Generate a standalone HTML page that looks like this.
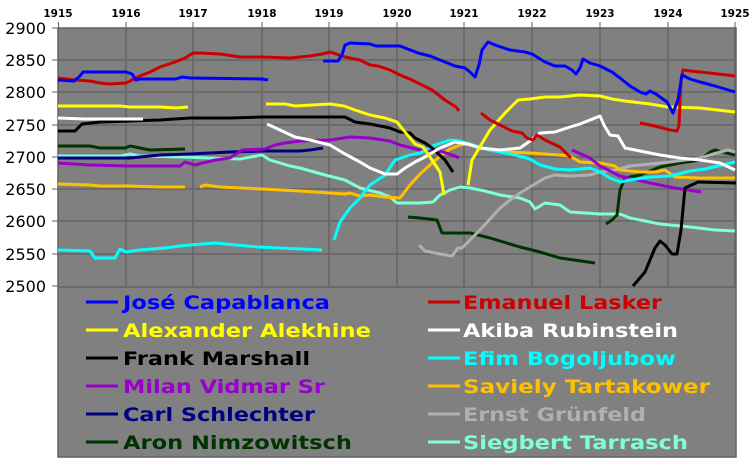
<!DOCTYPE html><html><head><meta charset="utf-8"><style>
html,body{margin:0;width:756px;height:464px}
body{background:linear-gradient(#808080,#808080) 58px 28px / 678px 429px no-repeat,#fff}
text{font-family:"DejaVu Sans","Liberation Sans",sans-serif}
</style></head><body>
<svg width="756" height="464" viewBox="0 0 756 464" style="position:absolute;left:0;top:0;display:block">
<g>
<rect x="58" y="28" width="678" height="429" fill="#808080" stroke="#606060" stroke-width="1.5"/>
<path d="M58 60H736M58 92H736M58 125H736M58 157H736M58 189H736M58 221H736M58 254H736M58 287H736M126 28V287M193 28V287M262 28V287M329 28V287M397 28V287M464 28V287M532 28V287M600 28V287M668 28V287M735 28V287" fill="none" stroke="#646464" stroke-width="1.5"/>
<path d="M52 28H58M52 60H58M52 92H58M52 125H58M52 157H58M52 189H58M52 221H58M52 254H58M52 286H58M58.5 22V28M126 22V28M193 22V28M262 22V28M329 22V28M397 22V28M464 22V28M532 22V28M600 22V28M668 22V28M735 22V28" fill="none" stroke="#606060" stroke-width="1"/>
</g>
<g font-size="16" text-anchor="end">
<text x="46" y="34">2900</text><text x="46" y="66">2850</text><text x="46" y="98">2800</text><text x="46" y="131">2750</text><text x="46" y="163">2700</text><text x="46" y="195">2650</text><text x="46" y="227">2600</text><text x="46" y="260">2550</text><text x="46" y="292">2500</text>
</g>
<g font-size="10.5" font-weight="bold" text-anchor="middle">
<text x="58" y="17">1915</text><text x="126" y="17">1916</text><text x="193" y="17">1917</text><text x="262" y="17">1918</text><text x="329" y="17">1919</text><text x="397" y="17">1920</text><text x="464" y="17">1921</text><text x="532" y="17">1922</text><text x="600" y="17">1923</text><text x="668" y="17">1924</text><text x="735" y="17">1925</text>
</g>
<g fill="none" stroke-width="3" stroke-linejoin="round">
<polyline stroke="#7fffd4" points="58,156 120,156 130,154 140,156 180,157 210,158 240,159 262,155 270,160 290,166 300,168 325,175 345,180 360,188 380,193 390,197 397,203 420,203 433,202 440,195 450,190 460,187 470,188 485,191 500,195 520,198 530,202 535,209 545,203 560,205 570,212 600,214 620,214 630,218 660,224 690,227 715,230 735,231"/>
<polyline stroke="#003300" points="58,146 90,146 100,148 125,148 130,146 140,148 150,150 185,149"/>
<polyline stroke="#003300" points="408,217 420,218 437,220 442,233 470,233 490,238 520,247 540,252 560,258 595,263"/>
<polyline stroke="#003300" points="606,224 612,220 617,215 620,190 625,178 640,175 660,167 680,163 700,160 710,152 715,150 735,155"/>
<polyline stroke="#b0b0b0" points="419,245 425,251 440,254 452,256 458,248 462,248 470,240 480,230 490,219 500,208 510,200 520,193 530,187 545,178 555,175 570,176 590,175 600,172 615,170 630,166 650,164 670,162 700,158 720,152 728,150 735,152"/>
<polyline stroke="#ffc000" points="58,184 90,185 100,186 130,186 160,187 185,187"/>
<polyline stroke="#ffc000" points="200,187 205,185 220,187 262,189 300,191 330,193 345,194 350,193 360,196 370,195 385,197 400,198 410,185 420,174 430,165 440,156 450,149 460,145 465,144 475,146 490,150 510,152 530,153 560,155 570,156 580,162 600,163 615,166 620,170 640,172 655,172 665,170 675,177 700,178 735,178"/>
<polyline stroke="#000080" points="58,158 130,158 140,157 160,155 190,154 230,152 262,151 300,151 310,150 323,148"/>
<polyline stroke="#9900cc" points="58,163 90,165 130,166 180,166 185,162 195,165 215,160 230,158 242,150 265,149 275,145 285,143 300,141 330,140 350,137 370,138 390,141 400,145 420,150 440,151 455,156 459,158"/>
<polyline stroke="#9900cc" points="572,150 590,158 600,166 620,176 650,183 675,188 701,192"/>
<polyline stroke="#00ffff" points="58,250 90,251 95,258 115,258 120,249 126,252 140,250 165,248 180,246 190,245 215,243 258,247 302,249 322,250"/>
<polyline stroke="#00ffff" points="334,240 340,222 350,208 360,198 370,185 385,175 395,160 410,155 420,153 435,145 450,140 460,141 470,144 490,150 500,152 515,155 530,159 540,165 555,169 570,170 590,168 600,172 610,178 620,182 630,180 650,177 670,176 690,171 705,169 735,162"/>
<polyline stroke="#000" points="58,131 75,131 82,124 100,122 130,121 160,120 190,118 230,118 262,117 290,117 330,117 345,117 355,122 370,124 390,128 400,132 410,133 415,138 425,143 432,148 445,160 453,172"/>
<polyline stroke="#000" points="633,286 645,272 655,248 660,241 665,245 672,254 677,254 681,230 685,188 698,182 736,183"/>
<polyline stroke="#fff" points="58,118 85,119 143,119"/>
<polyline stroke="#fff" points="267,124 280,130 295,137 310,140 330,145 345,154 360,162 370,168 385,174 397,174 405,168 415,162 425,157 440,148 455,142 468,144 480,148 500,150 520,148 530,141 540,133 555,132 570,127 580,124 595,118 600,116 604,125 610,135 618,136 625,148 640,151 660,155 680,158 700,160 720,163 735,170"/>
<polyline stroke="#ffff00" points="58,106 120,106 130,107 160,107 176,108 188,107"/>
<polyline stroke="#ffff00" points="266,104 285,104 295,106 330,104 344,106 355,110 370,115 385,118 397,122 405,132 415,144 423,147 432,160 440,172 444,195"/>
<polyline stroke="#ffff00" points="468,185 472,160 478,150 490,130 505,113 518,100 530,99 545,97 560,97 580,95 600,96 612,99 625,101 650,104 668,107 700,108 735,112"/>
<polyline stroke="#cc0000" points="58,78 75,80 90,81 100,83 110,84 126,83 132,80 140,76 150,72 160,67 175,62 185,58 193,53 200,53 220,54 240,57 262,57 290,58 310,56 322,54 330,52 345,57 360,60 370,65 378,66 390,70 400,75 412,80 420,84 432,90 445,100 456,107 459,111"/>
<polyline stroke="#cc0000" points="481,113 490,120 500,125 512,131 522,133 527,138 533,140 537,135 545,140 560,147 571,158"/>
<polyline stroke="#cc0000" points="640,123 655,126 670,130 677,131 679,125 681,80 683,70 690,71 710,73 735,76"/>
<polyline stroke="#0000ff" points="58,80 74,81 80,76 83,72 90,72 126,72 132,74 136,80 140,79 176,79 182,77 190,78 262,79 268,80"/>
<polyline stroke="#0000ff" points="323,61 338,61 342,55 345,45 350,43 370,44 376,46 397,46 400,46 418,53 430,56 440,60 455,66 465,68 470,72 475,77 479,65 482,50 488,42 495,45 510,50 525,52 532,54 545,62 555,66 565,66 572,70 576,74 580,68 583,59 590,63 600,66 612,72 620,78 630,86 640,92 646,94 650,91 656,94 667,102 673,113 678,100 682,75 690,79 700,82 715,86 735,92"/>
</g>
<g stroke-width="3">
<line x1="86" y1="302" x2="118" y2="302" stroke="#0000ff"/><line x1="86" y1="330" x2="118" y2="330" stroke="#ffff00"/><line x1="86" y1="358" x2="118" y2="358" stroke="#000"/><line x1="86" y1="386" x2="118" y2="386" stroke="#9900cc"/><line x1="86" y1="414" x2="118" y2="414" stroke="#000080"/><line x1="86" y1="442" x2="118" y2="442" stroke="#003300"/>
<line x1="428" y1="302" x2="460" y2="302" stroke="#cc0000"/><line x1="428" y1="330" x2="460" y2="330" stroke="#fff"/><line x1="428" y1="358" x2="460" y2="358" stroke="#00ffff"/><line x1="428" y1="386" x2="460" y2="386" stroke="#ffc000"/><line x1="428" y1="414" x2="460" y2="414" stroke="#b0b0b0"/><line x1="428" y1="442" x2="460" y2="442" stroke="#7fffd4"/>
</g>
<g font-size="19" font-weight="bold">
<text x="123" y="309" fill="#0000ff" textLength="207" lengthAdjust="spacingAndGlyphs">José Capablanca</text>
<text x="123" y="337" fill="#ffff00" textLength="248" lengthAdjust="spacingAndGlyphs">Alexander Alekhine</text>
<text x="123" y="365" fill="#000" textLength="187" lengthAdjust="spacingAndGlyphs">Frank Marshall</text>
<text x="123" y="393" fill="#9900cc" textLength="202" lengthAdjust="spacingAndGlyphs">Milan Vidmar Sr</text>
<text x="123" y="421" fill="#000080" textLength="192" lengthAdjust="spacingAndGlyphs">Carl Schlechter</text>
<text x="123" y="449" fill="#003300" textLength="229" lengthAdjust="spacingAndGlyphs">Aron Nimzowitsch</text>
<text x="463" y="309" fill="#cc0000" textLength="199" lengthAdjust="spacingAndGlyphs">Emanuel Lasker</text>
<text x="463" y="337" fill="#fff" textLength="215" lengthAdjust="spacingAndGlyphs">Akiba Rubinstein</text>
<text x="463" y="365" fill="#00ffff" textLength="213" lengthAdjust="spacingAndGlyphs">Efim Bogoljubow</text>
<text x="463" y="393" fill="#ffc000" textLength="247" lengthAdjust="spacingAndGlyphs">Saviely Tartakower</text>
<text x="463" y="421" fill="#b0b0b0" textLength="183" lengthAdjust="spacingAndGlyphs">Ernst Grünfeld</text>
<text x="463" y="449" fill="#7fffd4" textLength="225" lengthAdjust="spacingAndGlyphs">Siegbert Tarrasch</text>
</g>
</svg>
</body></html>
